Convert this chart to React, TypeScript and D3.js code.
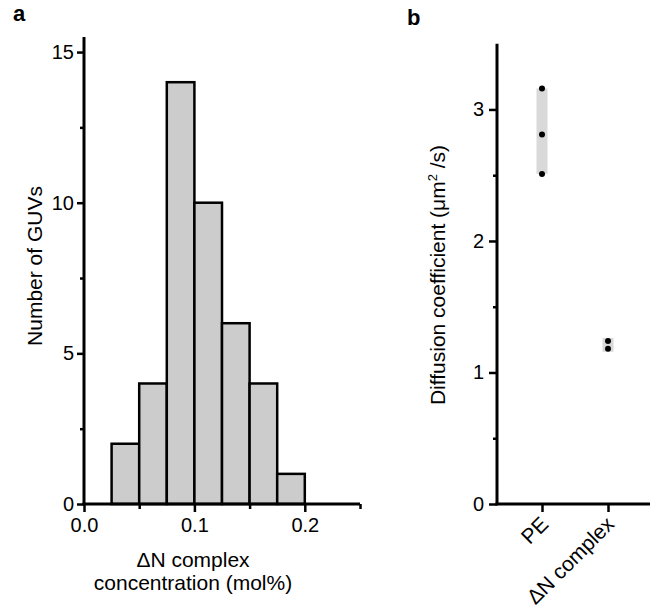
import React from 'react';
import * as d3 from 'd3';

// panel a: histogram of complex concentration
const binEdges = [0.025, 0.05, 0.075, 0.1, 0.125, 0.15, 0.175, 0.2];
const binCounts = [2, 4, 14, 10, 6, 4, 1];
const histXTicks = [0, 0.1, 0.2];
const histXMinor = [0.05, 0.15, 0.25];
const histYTicks = [0, 5, 10, 15];
const histYMinor = [2.5, 7.5, 12.5];

// panel b: diffusion coefficients
const groups = ['PE', 'ΔN complex'];
const peValues = [3.16, 2.81, 2.51];
const complexValues = [1.24, 1.18];
const diffYTicks = [0, 1, 2, 3];
const diffYMinor = [0.5, 1.5, 2.5];

const FONT = '"Liberation Sans", Arial, sans-serif';

export default function App() {
  const ref = React.useRef<SVGSVGElement>(null);

  React.useEffect(() => {
    const svg = d3.select(ref.current);
    svg.selectAll('*').remove();
    svg.attr('font-family', FONT);

    const styleAxis = (g) => {
      g.select('.domain').remove();
      g.selectAll('line').attr('stroke', '#000').attr('stroke-width', 2.5);
      g.selectAll('text').attr('font-size', 20).attr('fill', '#000').attr('font-family', FONT);
    };

    // ---------- panel a ----------
    const x = d3.scaleLinear().domain([0, 0.25]).range([84, 360]);
    const y = d3.scaleLinear().domain([0, 15.5]).range([504, 37]);

    const a = svg.append('g');

    a.selectAll('.bar')
      .data(binCounts)
      .enter().append('rect')
      .attr('x', (d, i) => x(binEdges[i]))
      .attr('width', (d, i) => x(binEdges[i + 1]) - x(binEdges[i]))
      .attr('y', d => y(d))
      .attr('height', d => y(0) - y(d))
      .attr('fill', '#cccccc')
      .attr('stroke', '#000')
      .attr('stroke-width', 2.5);

    a.append('g')
      .attr('transform', `translate(0,${y(0)})`)
      .call(d3.axisBottom(x).tickValues(histXTicks).tickFormat(d3.format('.1f')).tickSize(8).tickPadding(6))
      .call(styleAxis);
    a.append('g')
      .attr('transform', `translate(0,${y(0)})`)
      .call(d3.axisBottom(x).tickValues(histXMinor).tickFormat(() => '').tickSize(5))
      .call(styleAxis);

    a.append('g')
      .attr('transform', `translate(${x(0)},0)`)
      .call(d3.axisLeft(y).tickValues(histYTicks).tickSize(7).tickPadding(3))
      .call(styleAxis);
    a.append('g')
      .attr('transform', `translate(${x(0)},0)`)
      .call(d3.axisLeft(y).tickValues(histYMinor).tickFormat(() => '').tickSize(4))
      .call(styleAxis);

    a.append('line')
      .attr('x1', x(0)).attr('x2', x(0)).attr('y1', y(15.5)).attr('y2', y(0) + 1.25)
      .attr('stroke', '#000').attr('stroke-width', 3);
    a.append('line')
      .attr('x1', x(0) - 1.5).attr('x2', x(0.25)).attr('y1', y(0)).attr('y2', y(0))
      .attr('stroke', '#000').attr('stroke-width', 3);

    a.append('text')
      .attr('transform', `translate(42,266) rotate(-90)`)
      .attr('text-anchor', 'middle')
      .attr('font-size', 21)
      .text('Number of GUVs');

    a.append('text')
      .attr('x', 193).attr('y', 567)
      .attr('text-anchor', 'middle').attr('font-size', 21)
      .text('ΔN complex');
    a.append('text')
      .attr('x', 193).attr('y', 590)
      .attr('text-anchor', 'middle').attr('font-size', 21)
      .text('concentration (mol%)');

    a.append('text')
      .attr('x', 13).attr('y', 21)
      .attr('font-size', 22).attr('font-weight', 'bold')
      .text('a');

    // ---------- panel b ----------
    const xb = d3.scalePoint().domain(groups).range([542, 608]);
    const yb = d3.scaleLinear().domain([0, 3.5]).range([504, 43.7]);
    const bx0 = 497;

    const b = svg.append('g');

    const bands = [peValues, complexValues];
    bands.forEach((vals, i) => {
      const cx = xb(groups[i]);
      const lo = d3.min(vals);
      const hi = d3.max(vals);
      const pad = i === 1 ? 3 : 0;
      b.append('rect')
        .attr('x', cx - 5.5)
        .attr('width', 11)
        .attr('y', yb(hi) - pad)
        .attr('height', yb(lo) - yb(hi) + 2 * pad)
        .attr('fill', '#d9d9d9');
      b.selectAll(null)
        .data(vals)
        .enter().append('circle')
        .attr('cx', cx)
        .attr('cy', d => yb(d))
        .attr('r', 3)
        .attr('fill', '#000');
    });

    b.append('g')
      .attr('transform', `translate(${bx0},0)`)
      .call(d3.axisLeft(yb).tickValues(diffYTicks).tickFormat(d3.format('d')).tickSize(8).tickPadding(5))
      .call(styleAxis);
    b.append('g')
      .attr('transform', `translate(${bx0},0)`)
      .call(d3.axisLeft(yb).tickValues(diffYMinor).tickFormat(() => '').tickSize(4))
      .call(styleAxis);

    const bxAxis = b.append('g')
      .attr('transform', `translate(0,${yb(0)})`)
      .call(d3.axisBottom(xb).tickSize(8).tickFormat(() => ''))
      .call(styleAxis);
    bxAxis.selectAll(null)
      .data(groups)
      .enter().append('text')
      .attr('transform', d => `translate(${xb(d) - 3},${11}) rotate(-45)`)
      .attr('text-anchor', 'end')
      .attr('dy', '0.71em')
      .attr('font-size', 21)
      .attr('fill', '#000')
      .text(d => d);

    b.append('line')
      .attr('x1', bx0).attr('x2', bx0).attr('y1', yb(3.5)).attr('y2', yb(0) + 1.25)
      .attr('stroke', '#000').attr('stroke-width', 3);
    b.append('line')
      .attr('x1', bx0 - 1.5).attr('x2', 650).attr('y1', yb(0)).attr('y2', yb(0))
      .attr('stroke', '#000').attr('stroke-width', 3);

    const yl = b.append('text')
      .attr('transform', `translate(445,275) rotate(-90)`)
      .attr('text-anchor', 'middle')
      .attr('font-size', 21);
    yl.append('tspan').text('Diffusion coefficient (μm');
    yl.append('tspan').attr('font-size', 13).attr('dy', -8).text('2');
    yl.append('tspan').attr('dy', 8).text(' /s)');

    b.append('text')
      .attr('x', 407).attr('y', 25)
      .attr('font-size', 22).attr('font-weight', 'bold')
      .text('b');
  }, []);

  return (
    <div style={{ position: 'absolute', left: 0, top: 0 }}>
      <svg ref={ref} width={650} height={608} style={{ display: 'block', background: '#fff' }} />
    </div>
  );
}
